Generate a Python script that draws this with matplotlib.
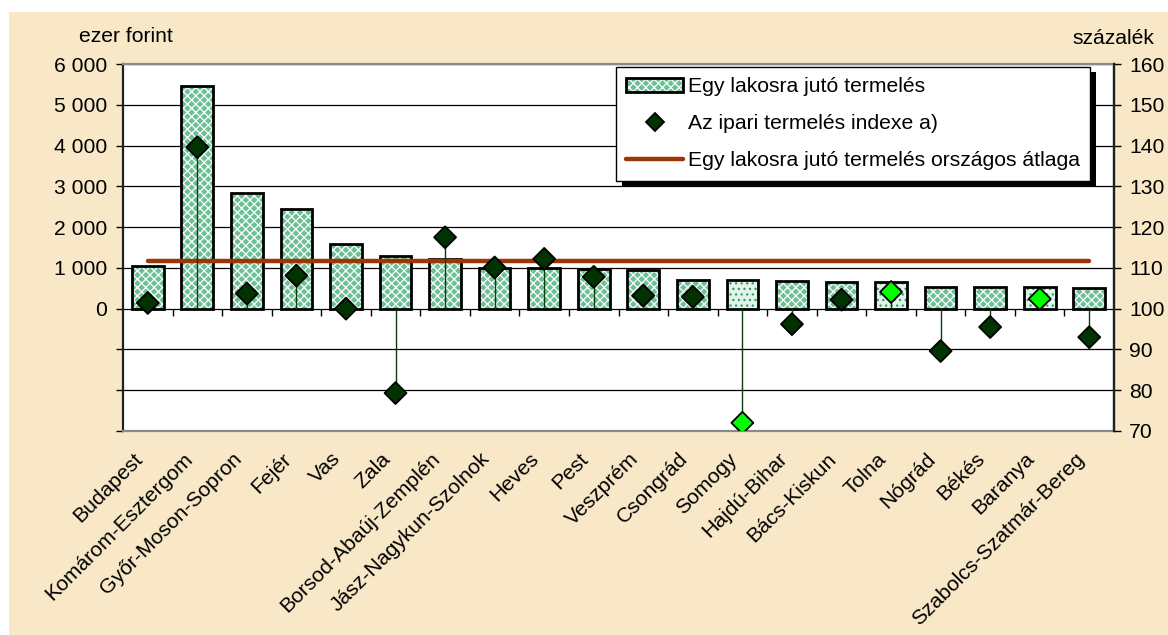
import numpy as np
from matplotlib import pyplot as plt
from matplotlib.patches import Patch, Rectangle
from matplotlib.lines import Line2D
from matplotlib.transforms import ScaledTranslation, IdentityTransform

plt.rcParams['font.family'] = ['Liberation Sans', 'DejaVu Sans']
plt.rcParams['hatch.linewidth'] = 0.9

megyek = ['Budapest', 'Komárom-Esztergom', 'Győr-Moson-Sopron', 'Fejér', 'Vas',
          'Zala', 'Borsod-Abaúj-Zemplén', 'Jász-Nagykun-Szolnok', 'Heves', 'Pest',
          'Veszprém', 'Csongrád', 'Somogy', 'Hajdú-Bihar', 'Bács-Kiskun', 'Tolna',
          'Nógrád', 'Békés', 'Baranya', 'Szabolcs-Szatmár-Bereg']
# egy lakosra jutó termelés, ezer forint
termeles = [1050, 5470, 2830, 2450, 1590, 1290, 1230, 990, 990, 970,
            950, 710, 700, 680, 660, 650, 520, 520, 520, 510]
# az ipari termelés indexe, százalék
ipari_index = [101.4, 139.6, 103.7, 108.1, 100.0, 79.3, 117.5, 110.1, 112.2, 107.8,
               103.2, 102.9, 72.0, 96.2, 102.2, 104.1, 89.6, 95.5, 102.4, 93.0]
kiemelt = ['Somogy', 'Tolna', 'Baranya']
orszagos_atlag = 1180

bal_ticks = [-3000, -2000, -1000, 0, 1000, 2000, 3000, 4000, 5000, 6000]
bal_labels = ['', '', '', '0', '1 000', '2 000', '3 000', '4 000', '5 000', '6 000']
jobb_ticks = [70, 80, 90, 100, 110, 120, 130, 140, 150, 160]

leg_labels = ['Egy lakosra jutó termelés', 'Az ipari termelés indexe a)',
              'Egy lakosra jutó termelés országos átlaga']

BG = '#f8e8c8'
GREEN = '#6cc096'
FS = 15.2

fig = plt.figure(figsize=(11.68, 6.35), dpi=100, facecolor='white')
fig.patches.append(Rectangle((9 / 1168, 0), 1, 1 - 12 / 635, transform=fig.transFigure,
                             facecolor=BG, edgecolor='none', zorder=-10))
ax = fig.add_axes([0.1053, 0.3213, 0.9538 - 0.1053, 0.8992 - 0.3213])
ax.set_facecolor('white')

x = np.arange(len(megyek))
hl = np.array([m in kiemelt for m in megyek])

# bars: pattern layer then black outline
ax.bar(x[~hl], np.array(termeles)[~hl], width=0.64, facecolor=GREEN, edgecolor='white',
       hatch='xxxx', linewidth=0, zorder=2)
ax.bar(x[hl], np.array(termeles)[hl], width=0.64, facecolor='#e2f3e9', edgecolor='#2f9a68',
       hatch='...', linewidth=0, zorder=2)
ax.bar(x, termeles, width=0.64, fill=False, edgecolor='black', linewidth=2.0, zorder=3)

ax.plot([x[0], x[-1]], [orszagos_atlag, orszagos_atlag], color='#9c3606', lw=3.2,
        solid_capstyle='round', zorder=4)

ax.set_xlim(-0.5, len(megyek) - 0.5)
ax.set_ylim(-3000, 6000)
ax.set_yticks(bal_ticks, bal_labels, fontsize=FS)
ax.tick_params(axis='y', length=5, width=1, pad=6.5, direction='out')
ax.yaxis.grid(True, color='black', lw=0.9)
ax.set_axisbelow(True)

ax.set_xticks(x, megyek, rotation=45, ha='right', va='center', rotation_mode='anchor',
              fontsize=FS)
ax.tick_params(axis='x', length=0, pad=0)
for lab in ax.get_xticklabels():
    lab.set_transform(lab.get_transform() +
                      ScaledTranslation(-0.08, -0.25, fig.dpi_scale_trans))

# category boundary ticks on the zero line
sec = ax.secondary_xaxis(3000 / 9000)
sec.set_xticks(x[1:] - 0.5)
sec.tick_params(axis='x', length=5, width=1, direction='out', labelbottom=False)
sec.spines['bottom'].set_visible(False)

for s in ['top', 'bottom']:
    ax.spines[s].set_color('#8a8a8a')
    ax.spines[s].set_linewidth(1.6)
for s in ['left', 'right']:
    ax.spines[s].set_color('#202020')
    ax.spines[s].set_linewidth(1.6)

ax2 = ax.twinx()
ax2.set_ylim(70, 160)
ax2.set_yticks(jobb_ticks, [str(t) for t in jobb_ticks], fontsize=FS)
ax2.tick_params(axis='y', length=5, width=1, pad=6, direction='out')
for s in ['top', 'bottom', 'left']:
    ax2.spines[s].set_visible(False)
ax2.spines['right'].set_color('#202020')
ax2.spines['right'].set_linewidth(1.6)

ax2.vlines(x, 100, ipari_index, color='#0b3d0b', lw=1.0, zorder=3)
szin = ['#00ff00' if h else '#003300' for h in hl]
ax2.scatter(x, ipari_index, marker='D', s=125, c=szin, edgecolors='black',
            linewidths=1.3, zorder=4)

fig.text(126 / 1168, 1 - 36 / 635, 'ezer forint', ha='center', va='center', fontsize=FS)
fig.text(1113 / 1168, 1 - 38 / 635, 'százalék', ha='center', va='center', fontsize=FS)

h_bar = (Patch(facecolor=GREEN, edgecolor='white', hatch='xxxx', linewidth=0),
         Patch(fill=False, edgecolor='black', linewidth=2.0))
h_pt = Line2D([], [], ls='none', marker='D', markersize=9, markerfacecolor='#003300',
              markeredgecolor='black', markeredgewidth=1.3)
h_ln = Line2D([], [], color='#9c3606', lw=3.2, solid_capstyle='round')
leg = ax2.legend([h_bar, h_pt, h_ln], leg_labels, loc='upper right',
                 bbox_to_anchor=(0.976, 0.992), fontsize=FS, frameon=True, fancybox=False,
                 framealpha=1, edgecolor='black', handlelength=2.7, handleheight=0.7,
                 labelspacing=0.85, borderpad=0.5, handletextpad=0.2, borderaxespad=0)
leg.get_frame().set_linewidth(1.0)
leg.set_zorder(6)

fig.canvas.draw()
bb = leg.get_window_extent()
ax2.add_patch(Rectangle((bb.x0 + 6, bb.y0 - 5), bb.width, bb.height, transform=IdentityTransform(),
                        facecolor='black', edgecolor='none', zorder=5.5, clip_on=False))

plt.savefig('out.png', dpi=100, facecolor='white')
